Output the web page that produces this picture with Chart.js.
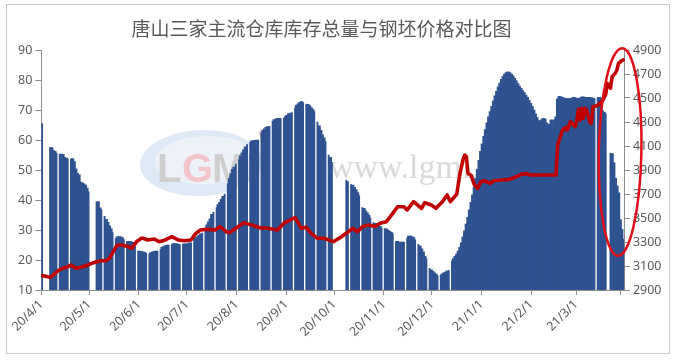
<!DOCTYPE html>
<html><head><meta charset="utf-8">
<script src="https://cdn.jsdelivr.net/npm/chart.js@4"></script>
<style>html,body{margin:0;padding:0;background:#fff}#wrap{width:676px;height:360px;position:relative}</style>
</head><body><div id="wrap"><canvas id="c" width="676" height="360"></canvas></div>
<script>
const TITLE = '唐山三家主流仓库库存总量与钢坯价格对比图';
const START_DATE = [2020, 4, 1];            // day 0 of the daily series
const TICK_LABELS = ['20/4/1','20/5/1','20/6/1','20/7/1','20/8/1','20/9/1','20/10/1','20/11/1','20/12/1','21/1/1','21/2/1','21/3/1'];

// daily inventory (万吨), one value per day from 2020-04-01, null = no data
const INVENTORY = [
  65.5,null,null,null,null,57.5,57.3,56.3,56.0,55.6,
  null,55.3,55.1,55.0,54.0,53.8,53.7,null,53.7,53.6,
  52.6,50.2,48.7,48.2,45.8,45.5,45.2,44.8,43.8,42.8,
  null,null,null,null,39.4,39.3,37.2,36.8,null,34.6,
  33.4,32.4,31.2,30.2,29.2,null,27.2,27.5,27.6,27.5,
  27.3,26.9,null,26.2,26.0,26.0,25.8,25.7,25.4,null,
  23.0,22.8,22.6,22.5,22.4,22.3,null,22.2,22.3,22.5,
  22.6,22.8,23.0,null,23.5,24.0,24.3,24.6,24.8,25.0,
  null,25.2,25.3,25.3,25.2,25.1,25.2,null,25.3,25.2,
  25.1,25.3,25.5,25.8,null,27.0,27.3,27.5,28.0,28.5,
  29.0,null,30.5,31.5,32.5,33.5,35.0,36.0,null,37.5,
  38.3,39.0,40.0,41.0,42.0,null,45.5,47.0,48.5,50.0,
  50.8,52.0,null,53.5,54.5,55.5,56.5,57.5,58.5,null,
  59.3,59.5,59.6,59.7,59.8,60.0,null,62.5,63.0,63.5,
  64.0,64.3,64.6,null,66.3,66.6,66.8,67.0,67.0,67.2,
  null,67.3,67.6,68.0,68.5,68.8,69.2,null,70.8,71.4,
  71.9,72.4,72.6,72.5,null,72.0,71.7,71.3,70.6,70.0,
  69.5,null,66.0,64.5,63.0,61.5,60.5,59.5,null,55.0,
  54.0,52.5,null,null,null,null,null,null,null,null,
  46.7,46.2,null,45.2,44.8,44.0,43.3,42.3,41.5,null,
  37.5,37.0,36.2,35.5,34.8,34.0,null,32.5,32.0,31.6,
  31.3,31.0,30.7,null,30.5,30.2,29.8,29.4,29.0,28.9,
  null,26.2,26.0,25.8,25.7,25.8,26.0,null,27.3,27.8,
  27.8,27.6,27.3,26.8,null,25.3,24.5,23.5,22.5,21.0,
  20.5,null,17.3,16.5,16.0,15.5,15.0,14.8,null,15.0,
  15.2,15.5,15.8,16.2,16.5,null,19.8,20.3,21.0,21.8,
  22.8,24.0,25.5,27.5,29.5,31.8,34.0,36.5,39.0,41.5,
  44.0,47.0,50.0,53.0,56.0,58.5,61.0,63.3,65.5,67.5,
  69.3,71.0,72.8,74.5,76.0,77.5,78.8,80.0,81.0,81.8,
  82.3,82.5,82.3,81.8,81.2,80.4,79.5,78.6,77.8,77.0,
  76.3,75.6,74.8,74.0,73.0,72.0,71.0,69.8,68.5,67.3,
  66.3,65.8,66.5,67.0,66.8,65.5,64.0,65.0,66.5,64.5,
  66.5,67.5,73.5,74.4,74.2,74.0,73.8,73.7,73.6,73.5,
  73.6,73.8,74.0,73.9,73.7,73.6,73.8,74.1,74.2,74.0,
  73.8,74.0,74.0,73.9,73.8,73.8,null,74.2,74.0,73.8,
  69.5,69.0,68.8,null,null,55.6,55.3,52.2,47.0,44.5,
  42.2,33.3,30.0,27.0
];

// billet price (元/吨): day offset from 2020-04-01 and value
const PRICE_DAYS = [0,5,7,10,13,16,18,21,24,27,31,34,37,40,42,45,47,50,54,56,
  59,62,63,66,70,73,77,81,85,89,93,96,99,103,108,111,115,117,121,126,
  131,136,141,147,151,154,158,162,165,168,172,176,182,187,194,197,200,204,208,211,
  215,219,222,226,228,232,237,239,243,246,250,253,255,259,261,263,264,265,266,268,
  270,272,274,276,278,280,282,287,292,296,300,303,305,321,322,323,325,327,328,330,
  332,333,334,335,336,337,338,339,340,342,343,344,347,350,352,353,355,356,358,359,
  360,362,363];
const PRICE = [3020,3006,3025,3061,3081,3094,3108,3081,3090,3100,3122,3136,3144,3144,3164,3233,3275,3275,3261,3247,
  3303,3331,3331,3317,3325,3303,3317,3344,3317,3311,3317,3372,3400,3406,3400,3428,3386,3378,3414,3461,
  3442,3419,3414,3400,3456,3478,3503,3414,3422,3372,3331,3331,3303,3344,3414,3386,3428,3442,3430,3456,
  3469,3539,3594,3594,3567,3636,3581,3628,3608,3581,3636,3692,3636,3700,3872,3990,4025,4011,3872,3855,
  3775,3747,3803,3810,3800,3789,3811,3817,3822,3844,3867,3870,3858,3858,4110,4150,4230,4255,4233,4303,
  4275,4261,4317,4405,4317,4414,4331,4414,4405,4300,4289,4428,4438,4475,4530,4622,4581,4678,4706,4733,
  4789,4811,4817];

const LEFT_AXIS = [10, 90, 10];
const RIGHT_AXIS = [2900, 4900, 200];
// highlight ellipse (data coordinates): centre day, centre price, half-width in days, half-height in price
const HIGHLIGHT = [361, 4050, 13.3, 865];

const MS_DAY = 86400000;
const T0 = Date.UTC(START_DATE[0], START_DATE[1]-1, START_DATE[2]);
function dayOf(label){ const p = label.split('/').map(Number); return Math.round((Date.UTC(2000+p[0], p[1]-1, p[2]) - T0)/MS_DAY); }
const TICK_DAYS = TICK_LABELS.map(dayOf);
const DAYS = INVENTORY.map((_, i) => i);
const AXIS_END_DAY = 361.5;

const GRAY = '#8e8e8e', TXT = '#595959';
const tickFont = {family: '"Noto Sans", "Liberation Sans", sans-serif', size: 12.5};

// bars inside a run overlap their neighbours (no seams); bars next to a gap stay narrow so the gap shows
function barInflate(ctx){
  const d = ctx.dataset.data, i = ctx.dataIndex;
  return (d[i-1] != null && d[i+1] != null) ? 0.9 : 0.15;
}

const deco = {
  id: 'deco',
  beforeDraw(chart){
    const c = chart.ctx; c.save(); c.fillStyle = '#fff'; c.fillRect(0,0,chart.width,chart.height); c.restore();
  },
  beforeDatasetsDraw(chart){
    const c = chart.ctx; c.save();
    // watermark logo
    c.beginPath(); c.ellipse(201, 163, 61, 33, -0.04, 0, Math.PI*2);
    c.fillStyle = 'rgba(210,224,241,0.7)'; c.fill();
    c.beginPath(); c.ellipse(205, 160, 50, 24, -0.04, 0, Math.PI*2);
    c.fillStyle = 'rgba(238,243,250,0.9)'; c.fill();
    c.font = 'bold 40px "Liberation Sans", sans-serif'; c.textBaseline = 'alphabetic';
    c.fillStyle = '#cfcfcf'; c.fillText('L', 157, 182);
    c.fillStyle = '#f3c6cb'; c.fillText('G', 182, 182);
    c.fillStyle = '#cfcfcf'; c.fillText('M', 212, 182); c.fillText('I', 246, 182);
    c.beginPath(); c.arc(263, 134, 4, 0, Math.PI*2); c.fillStyle = '#f4c4c8'; c.fill();
    c.font = '34px "Liberation Serif", serif'; c.fillStyle = '#d9d9d9';
    c.fillText('www.lgmi.com', 329, 178);
    c.restore();
  },
  afterDraw(chart){
    const c = chart.ctx; c.save();
    c.strokeStyle = '#c8c8c8'; c.lineWidth = 1; c.strokeRect(6.5, 4.5, 663, 349);
    c.fillStyle = TXT; c.font = '19px "Noto Sans CJK SC", sans-serif';
    c.textAlign = 'center'; c.textBaseline = 'middle';
    c.fillText(TITLE, 321.5, 28.5);
    const xs = chart.scales.x, ys = chart.scales.y1;
    const cx = xs.getPixelForValue(HIGHLIGHT[0]), cy = ys.getPixelForValue(HIGHLIGHT[1]);
    const rx = Math.abs(xs.getPixelForValue(HIGHLIGHT[0]+HIGHLIGHT[2]) - cx);
    const ry = Math.abs(ys.getPixelForValue(HIGHLIGHT[1]+HIGHLIGHT[3]) - cy);
    c.beginPath(); c.ellipse(cx, cy, rx, ry, 0.02, 0, Math.PI*2);
    c.strokeStyle = '#e0101a'; c.lineWidth = 2.5; c.stroke();
    c.restore();
  }
};

new Chart(document.getElementById('c'), {
  type: 'bar',
  data: {
    labels: DAYS,
    datasets: [
      { type: 'line', label: '钢坯价格', data: PRICE_DAYS.map((d, i) => ({x: d, y: PRICE[i]})),
        yAxisID: 'y1', borderColor: '#c00000', borderWidth: 3.6, pointRadius: 0, tension: 0,
        borderJoinStyle: 'round', borderCapStyle: 'round', order: 0, fill: false },
      { type: 'bar', label: '库存总量', data: INVENTORY, yAxisID: 'y',
        backgroundColor: '#2f5391', borderWidth: 0, barPercentage: 1, categoryPercentage: 1,
        inflateAmount: barInflate, order: 1 }
    ]
  },
  options: {
    responsive: false, animation: false, devicePixelRatio: 1,
    layout: {padding: {top: 50, left: 0, right: 0, bottom: 0}},
    plugins: {legend: {display: false}, title: {display: false}, tooltip: {enabled: false}},
    scales: {
      x: {
        type: 'linear', min: -0.5, max: 364, offset: false,
        grid: {display: true, drawOnChartArea: false, drawTicks: true, tickLength: 5, tickColor: GRAY, offset: false},
        border: {display: true, color: GRAY, width: 1},
        afterBuildTicks(s){ s.ticks = TICK_DAYS.map(d => ({value: d - 0.5})).concat([{value: AXIS_END_DAY}]); },
        ticks: {autoSkip: false, maxRotation: 45, minRotation: 45, padding: 2, color: TXT, font: tickFont,
          callback(v){ const i = TICK_DAYS.indexOf(v + 0.5); return i >= 0 ? TICK_LABELS[i] : ''; }},
        afterFit(s){ s.height = 70; }
      },
      y: {
        position: 'left', min: LEFT_AXIS[0], max: LEFT_AXIS[1],
        ticks: {stepSize: LEFT_AXIS[2], color: TXT, font: tickFont, padding: 3, callback: v => String(v)},
        grid: {drawOnChartArea: false, drawTicks: true, tickLength: 6, tickColor: GRAY},
        border: {display: true, color: GRAY, width: 1},
        afterFit(s){ s.width = 41.3; }
      },
      y1: {
        position: 'right', min: RIGHT_AXIS[0], max: RIGHT_AXIS[1],
        ticks: {stepSize: RIGHT_AXIS[2], color: TXT, font: tickFont, padding: 3, callback: v => String(v)},
        grid: {drawOnChartArea: false, drawTicks: true, tickLength: 5, tickColor: GRAY},
        border: {display: true, color: GRAY, width: 1},
        afterFit(s){ s.width = 51.1; }
      }
    }
  },
  plugins: [deco]
});
</script>
</body></html>
